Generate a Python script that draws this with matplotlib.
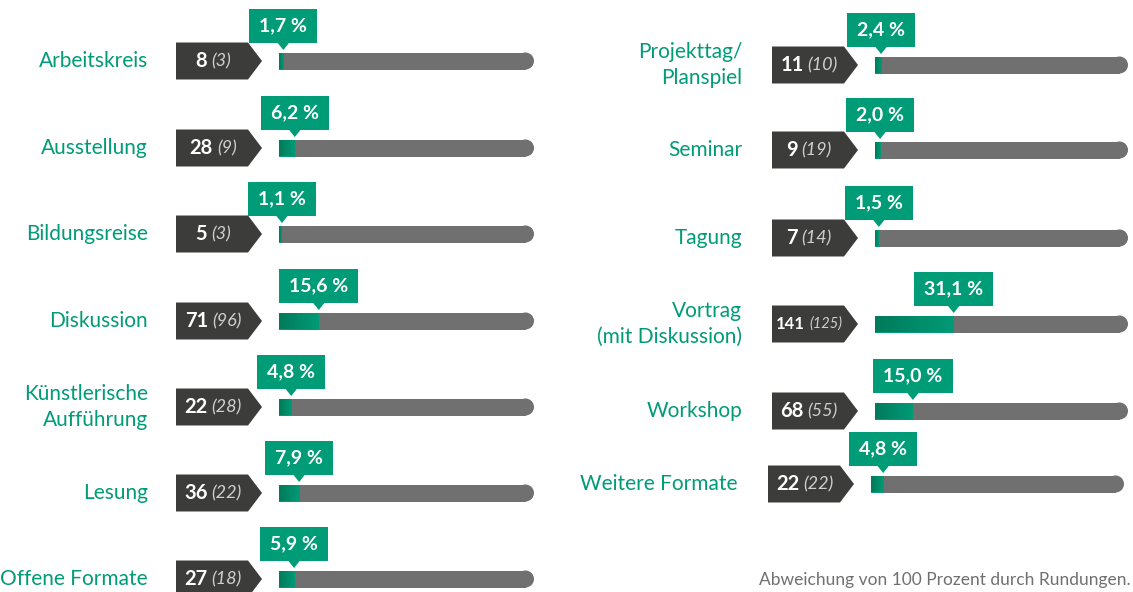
import numpy as np
import matplotlib.pyplot as plt
from matplotlib.patches import Polygon, Rectangle, Circle
from matplotlib.colors import LinearSegmentedColormap

plt.rcParams['font.family'] = ['Lato', 'DejaVu Sans']

# left column
left_labels = ['Arbeitskreis', 'Ausstellung', 'Bildungsreise', 'Diskussion',
               'Künstlerische\nAufführung', 'Lesung', 'Offene Formate']
left_counts = [8, 28, 5, 71, 22, 36, 27]
left_prev = [3, 9, 3, 96, 28, 22, 18]
left_pct = [1.7, 6.2, 1.1, 15.6, 4.8, 7.9, 5.9]

# right column
right_labels = ['Projekttag/\nPlanspiel', 'Seminar', 'Tagung',
                'Vortrag\n(mit Diskussion)', 'Workshop', 'Weitere Formate']
right_counts = [11, 9, 7, 141, 68, 22]
right_prev = [10, 19, 14, 125, 55, 22]
right_pct = [2.4, 2.0, 1.5, 31.1, 15.0, 4.8]

footnote = 'Abweichung von 100 Prozent durch Rundungen.'

GREEN = '#009b77'
DARK_GREEN = '#007a5a'
DARK = '#3c3c3b'
GREY = '#707070'

W, H = 1133, 592
fig = plt.figure(figsize=(W / 100, H / 100), dpi=100)
ax = fig.add_axes([0, 0, 1, 1])
ax.set_xlim(0, W)
ax.set_ylim(H, 0)
ax.axis('off')
renderer = fig.canvas.get_renderer()

grad = np.linspace(0, 1, 256).reshape(1, -1)
gcmap = LinearSegmentedColormap.from_list('g', [DARK_GREEN, GREEN])


def text_width(t):
    return t.get_window_extent(renderer).width


def draw_row(label, n, prev, pct, yc, lx, bx, x0, x1):
    bh = 17
    ax.text(lx, yc, label, ha='right', va='center', color=GREEN,
            fontsize=15, linespacing=1.35)

    # dark count box with arrow tip
    box = Polygon([(bx, yc - 18.5), (bx + 72, yc - 18.5), (bx + 86, yc),
                   (bx + 72, yc + 18.5), (bx, yc + 18.5)],
                  closed=True, fc=DARK, ec='none')
    ax.add_patch(box)
    fs = 14.5
    while True:
        t1 = ax.text(0, yc, str(n), fontsize=fs, fontweight='bold',
                     color='white', va='center', ha='left')
        t2 = ax.text(0, yc, f'({prev})', fontsize=fs - 1.5, style='italic',
                     color='#d0d0d0', va='center', ha='left')
        w1, w2 = text_width(t1), text_width(t2)
        gap = 4
        if w1 + w2 + gap <= 66 or fs <= 9:
            break
        t1.remove()
        t2.remove()
        fs -= 0.5
    start = bx + 37 - (w1 + gap + w2) / 2
    t1.set_x(start)
    t2.set_x(start + w1 + gap)

    # grey track with rounded end
    L = x1 - x0
    ax.barh(yc, L - bh / 2, left=x0, height=bh, color=GREY, zorder=2)
    ax.add_patch(Circle((x1 - bh / 2, yc), bh / 2, fc=GREY, ec='none', zorder=2))

    # green share with gradient
    gw = max(pct / 100 * L, 3)
    bars = ax.barh(yc, gw, left=x0, height=bh, color=GREEN, zorder=3)
    im = ax.imshow(grad, cmap=gcmap, aspect='auto', zorder=4,
                   extent=(x0, x0 + gw, yc + bh / 2, yc - bh / 2))
    im.set_clip_path(bars[0])

    # badge
    px = x0 + gw
    tb = ax.text(px, yc - 35, f'{pct:.1f} %'.replace('.', ','), ha='center',
                 va='center', fontsize=14, fontweight='bold', color='white',
                 zorder=7)
    bw = text_width(tb) + 20
    ax.add_patch(Rectangle((px - bw / 2, yc - 52), bw, 34, fc=GREEN,
                           ec='none', zorder=6))
    ax.add_patch(Polygon([(px - 6, yc - 18.5), (px + 6, yc - 18.5),
                          (px, yc - 11)], closed=True, fc=GREEN, ec='none',
                         zorder=6))


left_y = [61, 148, 234, 321, 407, 493, 579]
for i in range(len(left_labels)):
    draw_row(left_labels[i], left_counts[i], left_prev[i], left_pct[i],
             left_y[i], 148, 176, 279, 534)

right_y = [65, 150, 238, 324, 411, 484]
for i in range(len(right_labels)):
    off = -4 if i == len(right_labels) - 1 else 0
    draw_row(right_labels[i], right_counts[i], right_prev[i], right_pct[i],
             right_y[i], 742 + off, 772 + off, 875 + off, 1128 + off)

ax.text(1131, 580, footnote, ha='right', va='center', fontsize=12.5,
        color=GREY)

fig.savefig('out.png', dpi=100)
